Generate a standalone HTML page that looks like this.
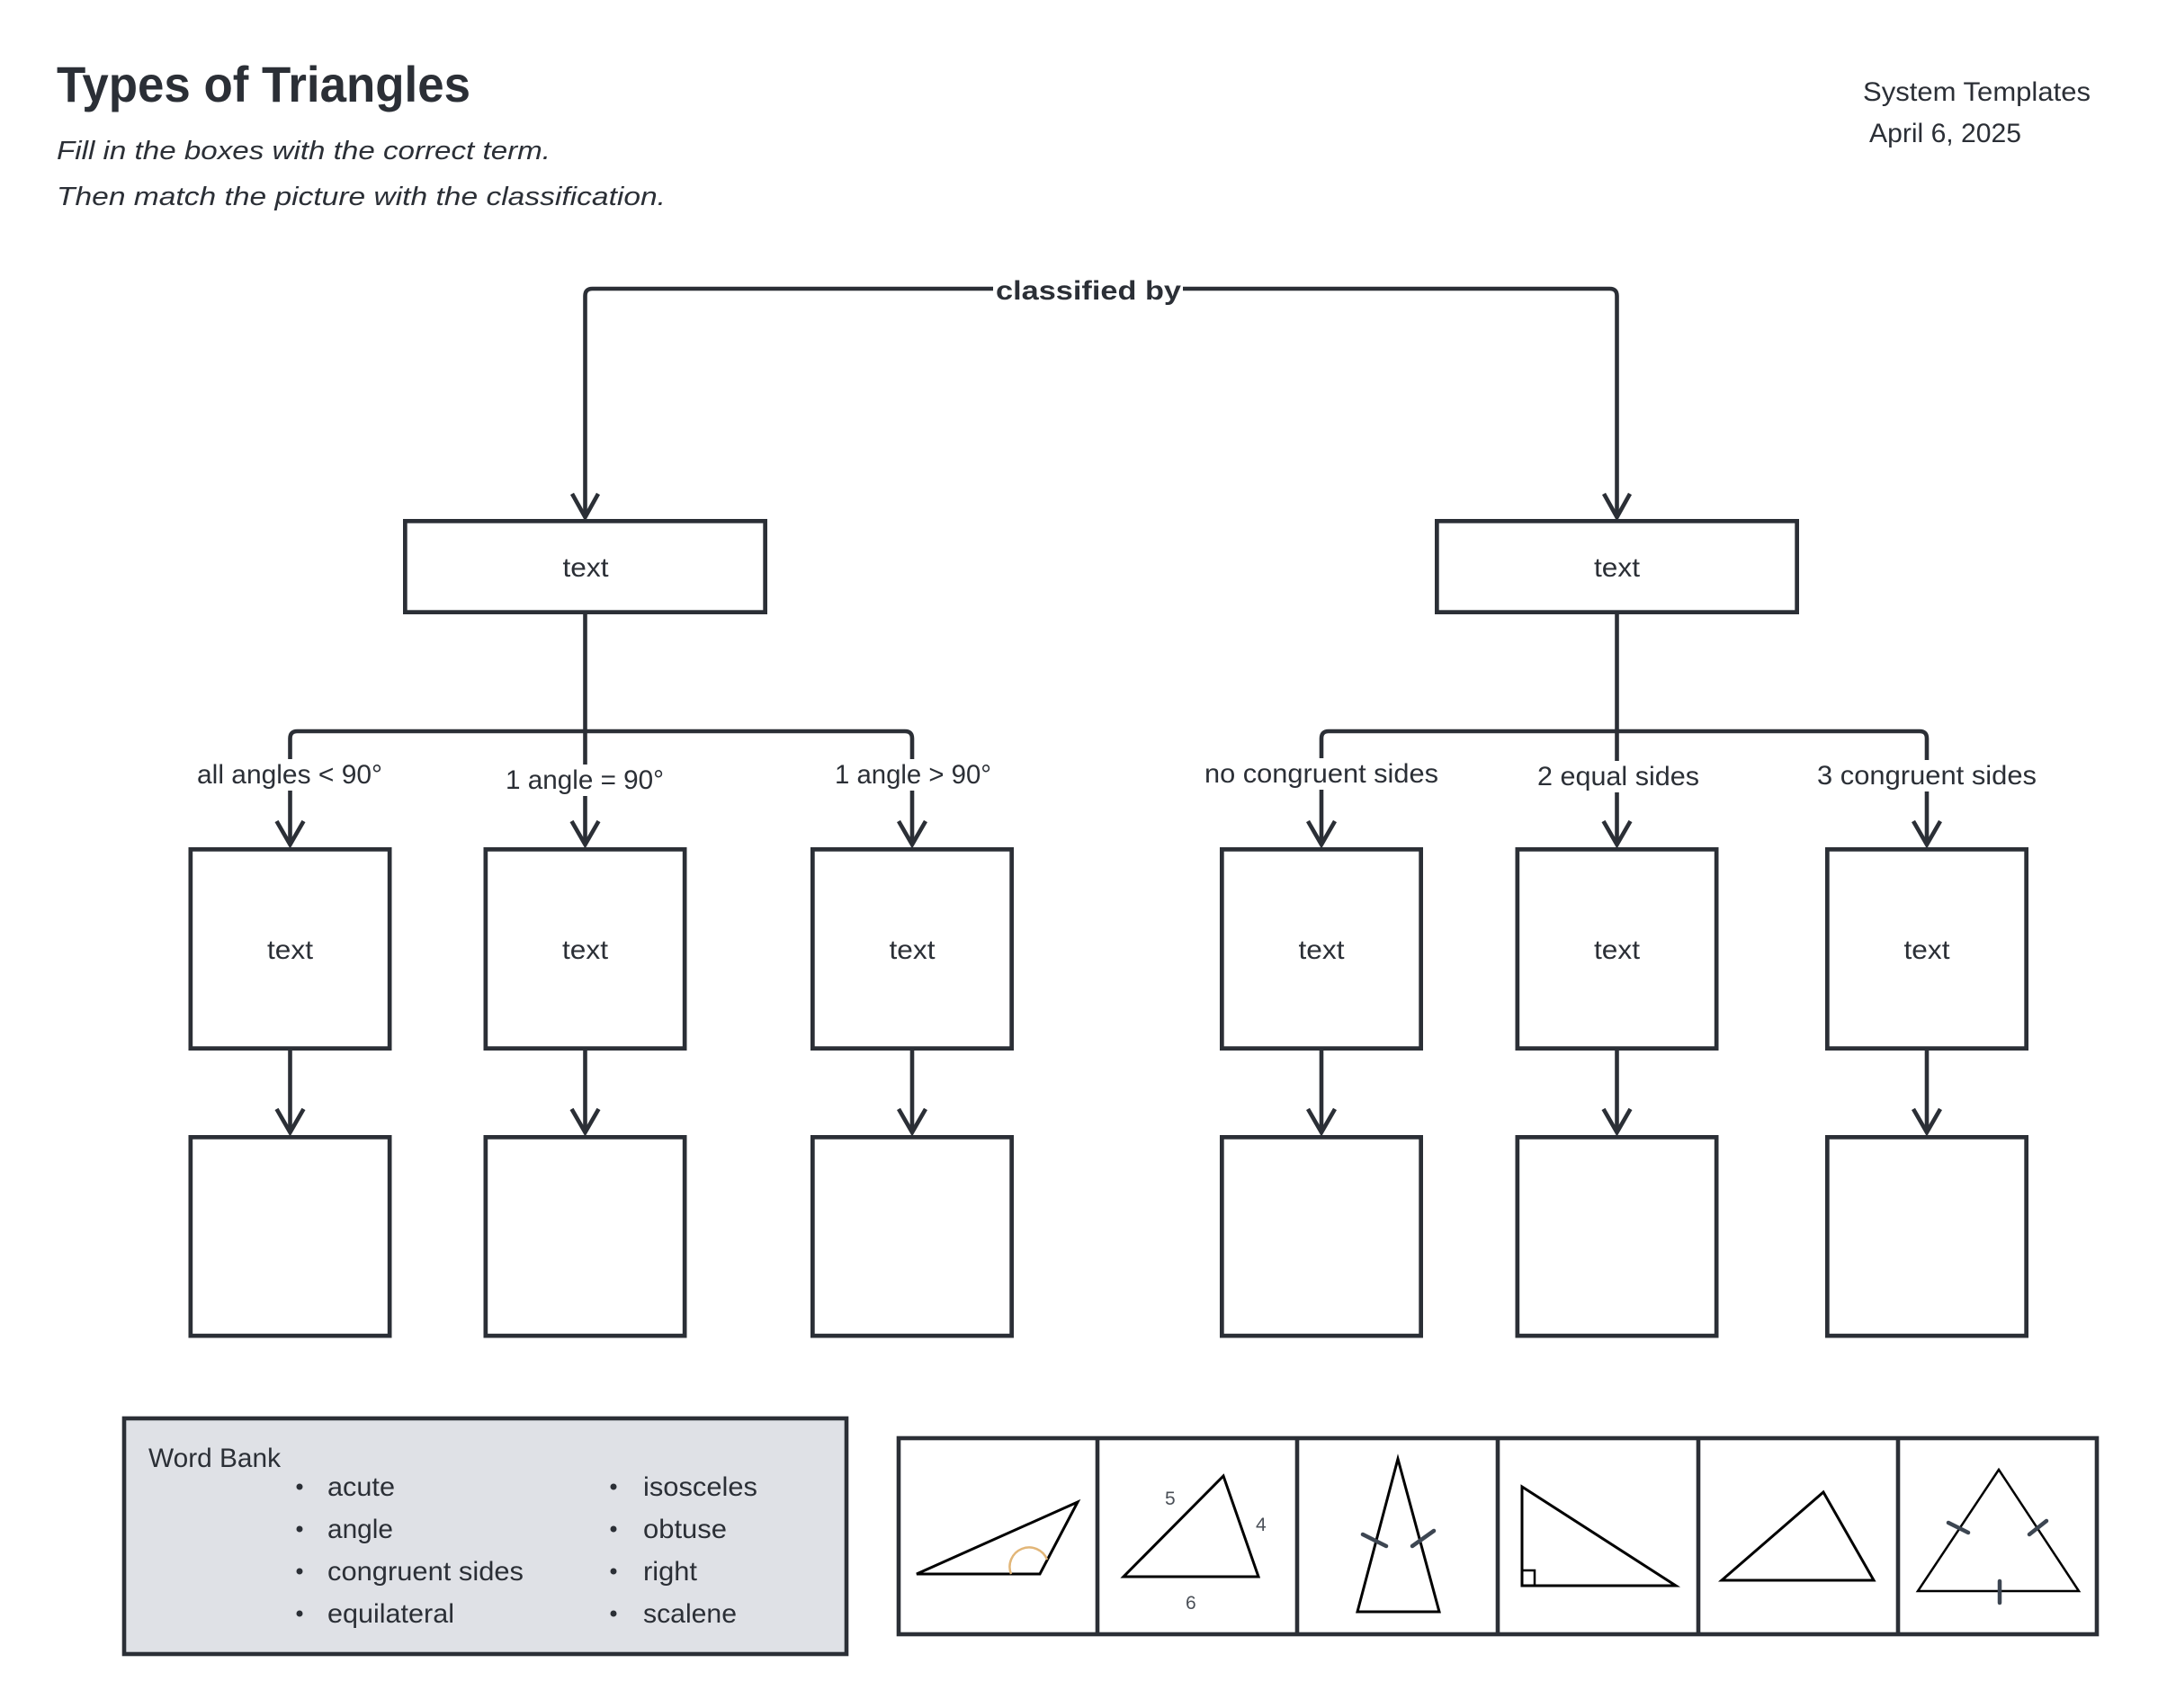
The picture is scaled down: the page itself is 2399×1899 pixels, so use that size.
<!DOCTYPE html>
<html>
<head>
<meta charset="utf-8">
<style>
html,body{margin:0;padding:0;background:#fff;}
svg{display:block;}
</style>
</head>
<body>
<svg width="2399" height="1899" viewBox="0 0 2399 1899" xmlns="http://www.w3.org/2000/svg" font-family="'Liberation Sans', sans-serif">
<rect x="0" y="0" width="2399" height="1899" fill="#ffffff"/>

<!-- Header -->
<g fill="#2b2f36">
  <text x="63" y="113" font-size="56" font-weight="bold" textLength="460" lengthAdjust="spacingAndGlyphs">Types of Triangles</text>
  <text x="63" y="177" font-size="29" font-style="italic" textLength="549" lengthAdjust="spacingAndGlyphs">Fill in the boxes with the correct term.</text>
  <text x="63" y="228" font-size="29" font-style="italic" textLength="677" lengthAdjust="spacingAndGlyphs">Then match the picture with the classification.</text>
  <text x="2071" y="112" font-size="30" textLength="253" lengthAdjust="spacingAndGlyphs">System Templates</text>
  <text x="2078" y="158" font-size="30" textLength="169" lengthAdjust="spacingAndGlyphs">April 6, 2025</text>
</g>

<!-- Connectors -->
<g fill="none" stroke="#2b2f36" stroke-width="4.6">
  <!-- top classified by -->
  <path d="M650.5,575 L650.5,329 Q650.5,321 658.5,321 L1104,321"/>
  <path d="M1315,321 L1789.5,321 Q1797.5,321 1797.5,329 L1797.5,575"/>
  <polyline points="636,549 650.5,575 665,549"/>
  <polyline points="1783,549 1797.5,575 1812,549"/>

  <!-- left branch -->
  <path d="M650.5,683 L650.5,939"/>
  <path d="M322.5,939 L322.5,821 Q322.5,813 330.5,813 L1006,813 Q1014,813 1014,821 L1014,939"/>
  <!-- right branch -->
  <path d="M1797.5,683 L1797.5,939"/>
  <path d="M1469,939 L1469,821 Q1469,813 1477,813 L2134,813 Q2142,813 2142,821 L2142,939"/>

  <!-- arrowheads into level 2 -->
  <polyline points="307.5,913 322.5,939 337.5,913"/>
  <polyline points="635.5,913 650.5,939 665.5,913"/>
  <polyline points="999,913 1014,939 1029,913"/>
  <polyline points="1454,913 1469,939 1484,913"/>
  <polyline points="1782.5,913 1797.5,939 1812.5,913"/>
  <polyline points="2127,913 2142,939 2157,913"/>

  <!-- level 2 to level 3 -->
  <path d="M322.5,1168 L322.5,1259"/>
  <path d="M650.5,1168 L650.5,1259"/>
  <path d="M1014,1168 L1014,1259"/>
  <path d="M1469,1168 L1469,1259"/>
  <path d="M1797.5,1168 L1797.5,1259"/>
  <path d="M2142,1168 L2142,1259"/>
  <polyline points="307.5,1233 322.5,1259 337.5,1233"/>
  <polyline points="635.5,1233 650.5,1259 665.5,1233"/>
  <polyline points="999,1233 1014,1259 1029,1233"/>
  <polyline points="1454,1233 1469,1259 1484,1233"/>
  <polyline points="1782.5,1233 1797.5,1259 1812.5,1233"/>
  <polyline points="2127,1233 2142,1259 2157,1233"/>
</g>

<!-- classified by label -->
<text x="1107" y="333" font-size="30" font-weight="bold" fill="#2b2f36" textLength="206" lengthAdjust="spacingAndGlyphs">classified by</text>

<!-- label backgrounds -->
<g fill="#ffffff">
  <rect x="215" y="844" width="214" height="35"/>
  <rect x="558" y="850" width="184" height="35"/>
  <rect x="924" y="844" width="182" height="35"/>
  <rect x="1335" y="843" width="268" height="35"/>
  <rect x="1705" y="846" width="188" height="35"/>
  <rect x="2016" y="845" width="252" height="35"/>
</g>
<g fill="#2b2f36" font-size="30">
  <text x="219" y="871" textLength="206" lengthAdjust="spacingAndGlyphs">all angles &lt; 90°</text>
  <text x="562" y="877" textLength="176" lengthAdjust="spacingAndGlyphs">1 angle = 90°</text>
  <text x="928" y="871" textLength="174" lengthAdjust="spacingAndGlyphs">1 angle &gt; 90°</text>
  <text x="1339" y="870" textLength="260" lengthAdjust="spacingAndGlyphs">no congruent sides</text>
  <text x="1709" y="873" textLength="180" lengthAdjust="spacingAndGlyphs">2 equal sides</text>
  <text x="2020" y="872" textLength="244" lengthAdjust="spacingAndGlyphs">3 congruent sides</text>
</g>

<!-- Boxes -->
<g fill="#ffffff" stroke="#2b2f36" stroke-width="4.7">
  <rect x="450.35" y="579.35" width="400.3" height="101.3"/>
  <rect x="1597.35" y="579.35" width="400.3" height="101.3"/>

  <rect x="211.85" y="944.35" width="221.3" height="221.3"/>
  <rect x="539.85" y="944.35" width="221.3" height="221.3"/>
  <rect x="903.35" y="944.35" width="221.3" height="221.3"/>
  <rect x="1358.35" y="944.35" width="221.3" height="221.3"/>
  <rect x="1686.85" y="944.35" width="221.3" height="221.3"/>
  <rect x="2031.35" y="944.35" width="221.3" height="221.3"/>

  <rect x="211.85" y="1264.35" width="221.3" height="220.8"/>
  <rect x="539.85" y="1264.35" width="221.3" height="220.8"/>
  <rect x="903.35" y="1264.35" width="221.3" height="220.8"/>
  <rect x="1358.35" y="1264.35" width="221.3" height="220.8"/>
  <rect x="1686.85" y="1264.35" width="221.3" height="220.8"/>
  <rect x="2031.35" y="1264.35" width="221.3" height="220.8"/>
</g>
<g fill="#2b2f36" font-size="30">
  <text x="625.5" y="641" textLength="51" lengthAdjust="spacingAndGlyphs">text</text>
  <text x="1772" y="641" textLength="51" lengthAdjust="spacingAndGlyphs">text</text>
  <text x="297" y="1066" textLength="51" lengthAdjust="spacingAndGlyphs">text</text>
  <text x="625" y="1066" textLength="51" lengthAdjust="spacingAndGlyphs">text</text>
  <text x="988.5" y="1066" textLength="51" lengthAdjust="spacingAndGlyphs">text</text>
  <text x="1443.5" y="1066" textLength="51" lengthAdjust="spacingAndGlyphs">text</text>
  <text x="1772" y="1066" textLength="51" lengthAdjust="spacingAndGlyphs">text</text>
  <text x="2116.5" y="1066" textLength="51" lengthAdjust="spacingAndGlyphs">text</text>
</g>

<!-- Word bank -->
<rect x="138" y="1577" width="803" height="262" fill="#dfe1e6" stroke="#2b2f36" stroke-width="4.6"/>
<g fill="#2b2f36" font-size="30">
  <text x="165" y="1631" textLength="147" lengthAdjust="spacingAndGlyphs">Word Bank</text>
  <circle cx="333" cy="1653" r="3.5"/>
  <circle cx="333" cy="1700" r="3.5"/>
  <circle cx="333" cy="1747" r="3.5"/>
  <circle cx="333" cy="1794" r="3.5"/>
  <circle cx="682" cy="1653" r="3.5"/>
  <circle cx="682" cy="1700" r="3.5"/>
  <circle cx="682" cy="1747" r="3.5"/>
  <circle cx="682" cy="1794" r="3.5"/>
  <text x="364" y="1663" textLength="75" lengthAdjust="spacingAndGlyphs">acute</text>
  <text x="364" y="1710" textLength="73" lengthAdjust="spacingAndGlyphs">angle</text>
  <text x="364" y="1757" textLength="218" lengthAdjust="spacingAndGlyphs">congruent sides</text>
  <text x="364" y="1804" textLength="141" lengthAdjust="spacingAndGlyphs">equilateral</text>
  <text x="715" y="1663" textLength="127" lengthAdjust="spacingAndGlyphs">isosceles</text>
  <text x="715" y="1710" textLength="93" lengthAdjust="spacingAndGlyphs">obtuse</text>
  <text x="715" y="1757" textLength="60" lengthAdjust="spacingAndGlyphs">right</text>
  <text x="715" y="1804" textLength="104" lengthAdjust="spacingAndGlyphs">scalene</text>
</g>

<!-- Triangle strip -->
<rect x="999" y="1599" width="1332" height="218" fill="#ffffff" stroke="#2b2f36" stroke-width="4.6"/>
<g stroke="#2b2f36" stroke-width="4.6">
  <line x1="1220" y1="1599" x2="1220" y2="1817"/>
  <line x1="1442" y1="1599" x2="1442" y2="1817"/>
  <line x1="1665" y1="1599" x2="1665" y2="1817"/>
  <line x1="1888" y1="1599" x2="1888" y2="1817"/>
  <line x1="2110" y1="1599" x2="2110" y2="1817"/>
</g>

<g fill="none" stroke="#000000" stroke-width="3" stroke-linejoin="miter">
  <polygon points="1019,1750 1156,1750 1198,1670"/>
  <polygon points="1249,1753 1399,1753 1360,1641"/>
  <polygon points="1554,1622 1509,1792 1600,1792"/>
  <polygon points="1692,1653 1692,1763 1863,1763"/>
  <rect x="1692" y="1746" width="14" height="17" stroke-width="2.5"/>
  <polygon points="1914,1757 2083,1757 2027,1659"/>
  <polygon points="2222,1634 2132,1769 2311,1769" stroke-width="2.5"/>
</g>
<path d="M1124,1750 A21,21 0 0 1 1164,1734" fill="none" stroke="#e2b678" stroke-width="2.5"/>
<g stroke="#3d4652" stroke-width="4.5" stroke-linecap="round">
  <line x1="1515" y1="1706" x2="1541" y2="1719"/>
  <line x1="1570" y1="1719" x2="1594" y2="1702"/>
  <line x1="2166" y1="1693" x2="2188" y2="1704"/>
  <line x1="2256" y1="1706" x2="2275" y2="1691"/>
  <line x1="2223" y1="1758" x2="2223" y2="1782"/>
</g>
<g fill="#4a4f57" font-size="21">
  <text x="1295" y="1673">5</text>
  <text x="1396" y="1702">4</text>
  <text x="1318" y="1789">6</text>
</g>
</svg>
</body>
</html>
